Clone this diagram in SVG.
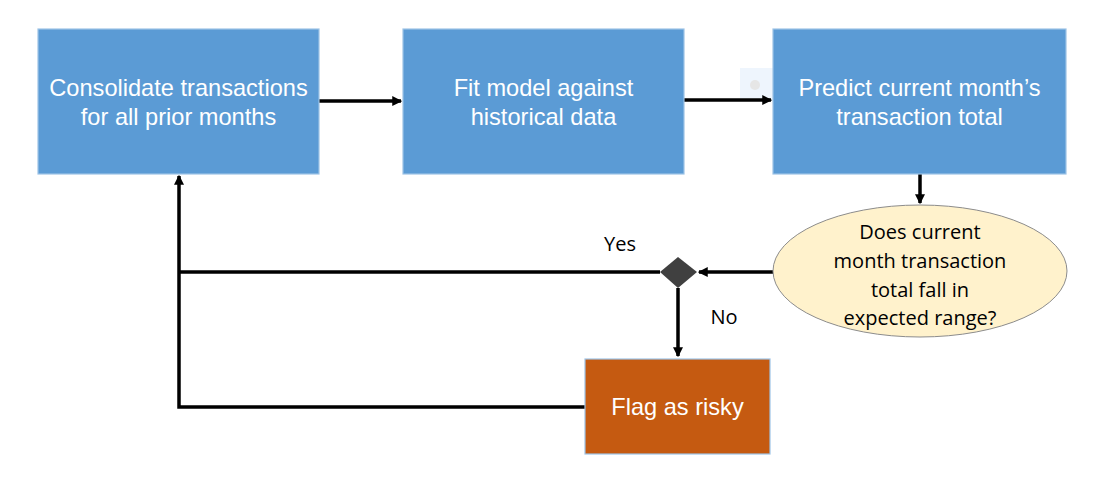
<svg xmlns="http://www.w3.org/2000/svg" width="1115" height="490" viewBox="0 0 1115 490">
<style>
.box{fill:#5B9BD5;stroke:#9DC3E6;stroke-width:1.2}
.bt{font-family:"Liberation Sans",Arial,sans-serif;font-size:23.6px;fill:#fff;text-anchor:middle}
.ct{font-family:"Open Sans","Liberation Sans",sans-serif;font-size:20px;fill:#000;text-anchor:middle}
.ln{fill:none;stroke:#000;stroke-width:3.5}
</style>
<defs>
<marker id="ah" markerWidth="10" markerHeight="10" refX="7" refY="4" orient="auto" markerUnits="userSpaceOnUse" viewBox="0 0 8 8">
<path d="M0,0 L8,4 L0,8 z" fill="#000"/>
</marker>
</defs>
<rect width="1115" height="490" fill="#fff"/>
<g id="ghost">
<rect x="740" y="68" width="236" height="33" fill="#EEF5FD"/>
<circle cx="755" cy="85" r="5" fill="#E6E6E6"/>
</g>
<g id="connectors">
<line class="ln" x1="319" y1="101" x2="401" y2="101" marker-end="url(#ah)"/>
<line class="ln" x1="684" y1="100" x2="771" y2="100" marker-end="url(#ah)"/>
<line class="ln" x1="920" y1="174" x2="920" y2="203" marker-end="url(#ah)"/>
<line class="ln" x1="773" y1="272" x2="699" y2="272" marker-end="url(#ah)"/>
<polyline class="ln" points="660,272 179,272"/>
<line class="ln" x1="678" y1="288" x2="678" y2="356" marker-end="url(#ah)"/>
<polyline class="ln" points="585,407 179,407 179,176" marker-end="url(#ah)"/>
<text x="620" y="251" class="ct">Yes</text>
<text x="724" y="324" class="ct">No</text>
</g>
<g id="n1">
<rect class="box" x="38" y="29" width="281" height="145"/>
<text class="bt" x="178.5" y="96">Consolidate transactions</text>
<text class="bt" x="178.5" y="125">for all prior months</text>
</g>
<g id="n2">
<rect class="box" x="403" y="29" width="281" height="145"/>
<text class="bt" x="543.5" y="96">Fit model against</text>
<text class="bt" x="543.5" y="125">historical data</text>
</g>
<g id="n3">
<rect class="box" x="773" y="29" width="293" height="145"/>
<text class="bt" x="919.5" y="96">Predict current month’s</text>
<text class="bt" x="919.5" y="125">transaction total</text>
</g>
<g id="n4">
<ellipse cx="920" cy="271" rx="147" ry="66" fill="#FFF2CC" stroke="#8C8C8C" stroke-width="1"/>
<text class="ct" x="920" y="239">Does current</text>
<text class="ct" x="920" y="268">month transaction</text>
<text class="ct" x="920" y="297">total fall in</text>
<text class="ct" x="920" y="325">expected range?</text>
</g>
<g id="n5">
<polygon points="678,257 697,272 678,288 660,272" fill="#404040"/>
</g>
<g id="n6">
<rect x="585" y="359" width="185" height="95" fill="#C55A11" stroke="#9DC3E6" stroke-width="1.2"/>
<text class="bt" x="677.5" y="415">Flag as risky</text>
</g>
</svg>
